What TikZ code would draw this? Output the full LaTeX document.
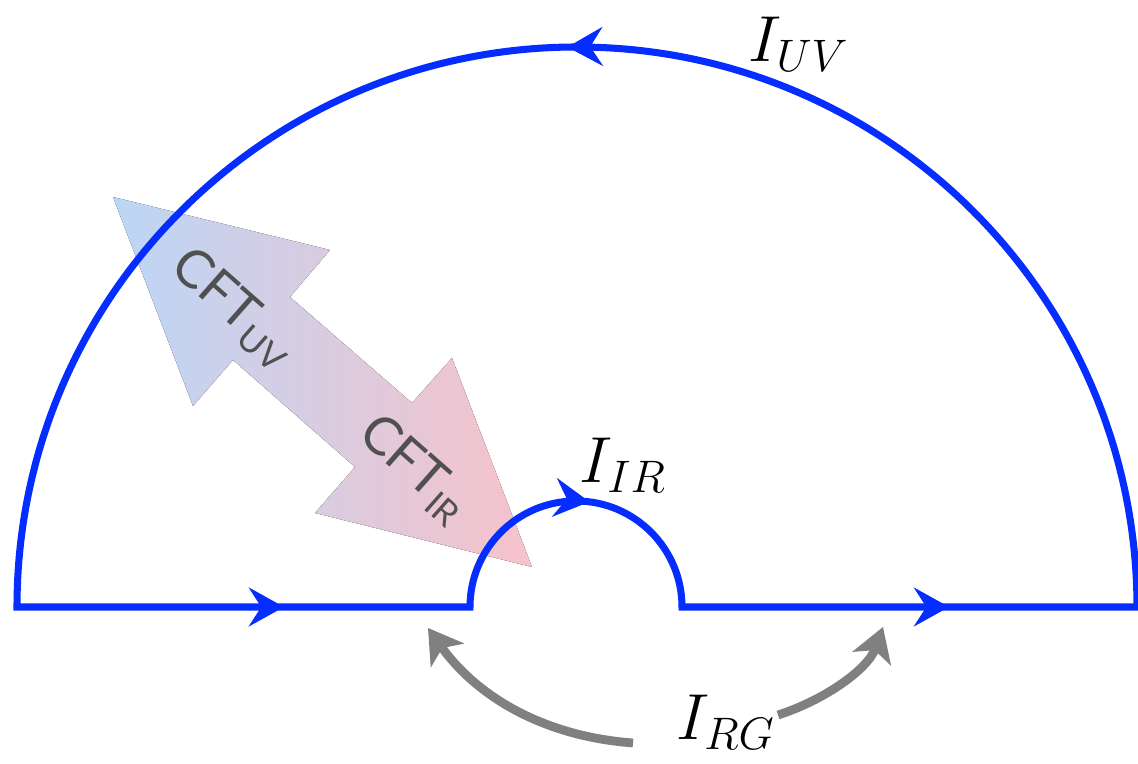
\RequirePackage{fix-cm}
\documentclass[tikz,border=0pt]{standalone}
\usepackage{fontspec}
\newfontfamily\cftfont{Lato}
\usetikzlibrary{arrows.meta,decorations.markings,positioning}
\definecolor{contourblue}{RGB}{5,45,255}
\definecolor{rggray}{RGB}{128,128,128}
\definecolor{uvblue}{RGB}{188,214,246}
\definecolor{irred}{RGB}{247,194,202}
\definecolor{cfttext}{RGB}{80,80,80}

\begin{document}
\begin{tikzpicture}[
    x=0.01cm, y=0.01cm,
    contourtip/.tip={Stealth[length=10pt,width=11pt,inset=3.5pt]},
    contour/.style={line width=2pt, color=contourblue, line join=miter},
    flow/.style={line width=2.5pt, color=rggray, -{Stealth[length=9.5pt,width=11.5pt,inset=2.5pt]}},
    lbl/.style={font=\fontsize{18.5}{22}\selectfont},
    cft/.style={font=\cftfont\fontsize{15}{18}\selectfont, color=cfttext, rotate=-41.4}
]
    \useasboundingbox (0,0) rectangle (1138,764);

    % RG flow arrow between the two fixed points
    \fill[left color=uvblue, right color=irred] (113,567) -- (330,514) -- (290,467) -- (412,361) -- (452,406)
        -- (532,197) -- (315,251) -- (355,297) -- (233,404) -- (193,358) -- cycle;
    \node[cft] (cftuv) at (233,456) {CFT\raisebox{-0.35ex}{\fontsize{10}{12}\selectfont UV}};
    \node[cft] (cftir) at (414,295) {CFT\raisebox{-0.35ex}{\fontsize{10}{12}\selectfont IR}};

    % the contour
    \draw[contour, postaction={decorate}, decoration={markings,
            mark=at position 0.089 with {\arrow{contourtip}},
            mark=at position 0.211 with {\arrow{contourtip}},
            mark=at position 0.351 with {\arrow{contourtip}},
            mark=at position 0.710 with {\arrow{contourtip}}}]
        (17,157) -- (470,157) arc[start angle=180, end angle=0, radius=106]
        -- (1137,157) arc[start angle=0, end angle=180, radius=560] -- cycle;

    \node[lbl] (iuv) at (799,720) {$I_{UV}$};
    \node[lbl] (iir) at (623,299) {$I_{IR}$};
    \node[lbl] (irg) at (726,42) {$I_{RG}$};

    \coordinate (rgleftstart) at (633,21);
    \coordinate (rgleft) at (428,136);
    \coordinate (rgrightstart) at (778,49);
    \coordinate (rgright) at (883,137);
    \draw[flow] (rgleftstart) .. controls (540,28) and (475,70) .. (rgleft);
    \draw[flow] (rgrightstart) .. controls (825,64) and (868,95) .. (rgright);
\end{tikzpicture}
\end{document}
